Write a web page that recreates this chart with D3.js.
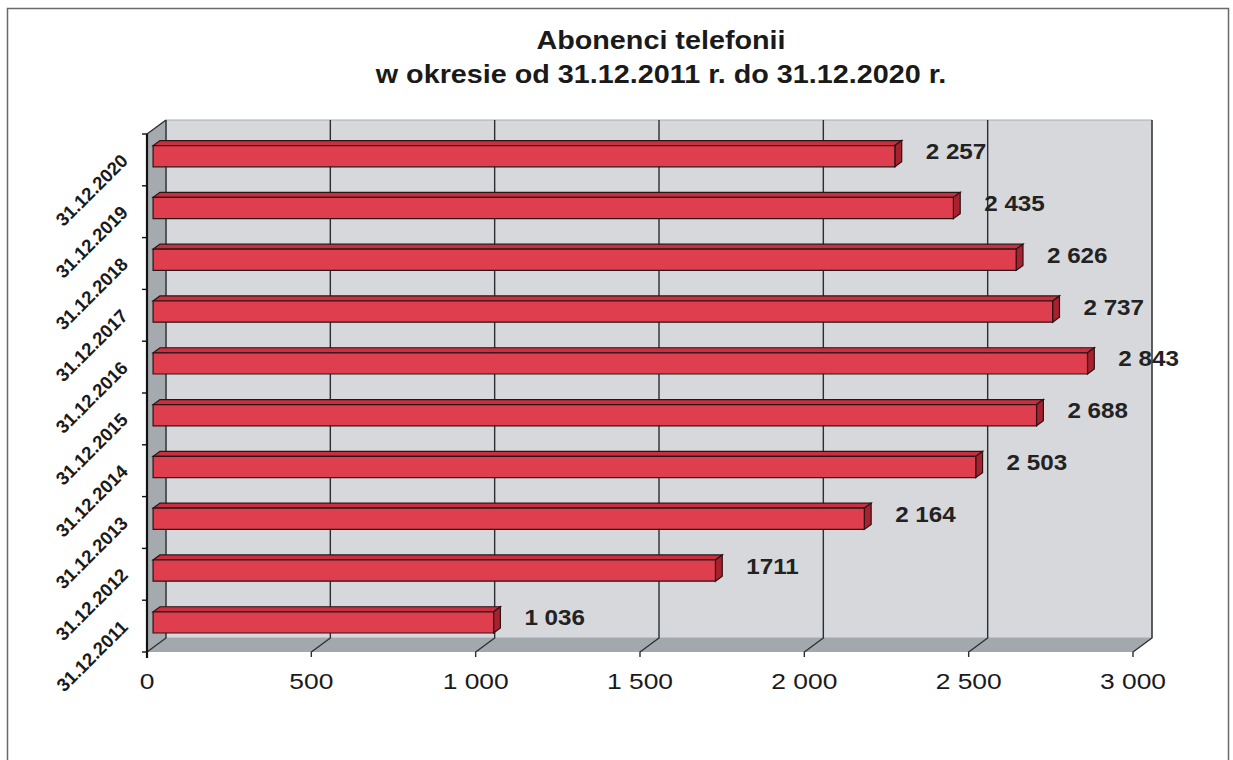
<!DOCTYPE html>
<html><head><meta charset="utf-8">
<script src="https://cdn.jsdelivr.net/npm/d3@7"></script>
<style>body{margin:0;background:#fff;}svg{display:block;font-family:"Liberation Sans",Arial,sans-serif;}</style>
</head><body><svg id="c" width="1233" height="760"></svg>
<script>
const titleLines = ["Abonenci telefonii", "w okresie od 31.12.2011 r. do 31.12.2020 r."];
const categories = ["31.12.2011","31.12.2012","31.12.2013","31.12.2014","31.12.2015","31.12.2016","31.12.2017","31.12.2018","31.12.2019","31.12.2020"];
const values = [1036, 1711, 2164, 2503, 2688, 2843, 2737, 2626, 2435, 2257];
const valueLabels = ["1 036","1711","2 164","2 503","2 688","2 843","2 737","2 626","2 435","2 257"];
const xTicks = [0, 500, 1000, 1500, 2000, 2500, 3000];
const xTickLabels = ["0","500","1 000","1 500","2 000","2 500","3 000"];

const svg = d3.select("#c");
const DX = 19, DY = -14; // depth vector

const x = d3.scaleLinear().domain([0, 3000]).range([147, 1133]);
const y = d3.scaleBand().domain(categories).range([652, 134]).padding(0);
const bw = y.bandwidth();
const P = (v, yy, d) => [x(v) + d * DX, yy + d * DY];

// frame
svg.append("rect").attr("x", 7.5).attr("y", 8.5).attr("width", 1221).attr("height", 800)
  .attr("fill", "none").attr("stroke", "#6a6a6a").attr("stroke-width", 1.5);

// title
svg.append("g").selectAll("text").data(titleLines).join("text")
  .attr("transform", (d, i) => `translate(661,${49 + i * 34}) scale(1.15,1)`)
  .attr("text-anchor", "middle").attr("font-weight", "bold").attr("font-size", 25)
  .attr("fill", "#1a1a1a").text(d => d);

const yTop = y.range()[1], yBot = y.range()[0];
const poly = pts => pts.map(p => p.join(",")).join(" ");

// back wall
svg.append("polygon").attr("points", poly([P(0, yTop, 1), P(3000, yTop, 1), P(3000, yBot, 1), P(0, yBot, 1)]))
  .attr("fill", "#d6d8db").attr("stroke", "#a9adb1").attr("stroke-width", 1);
// left wall
svg.append("polygon").attr("points", poly([P(0, yTop, 0), P(0, yTop, 1), P(0, yBot, 1), P(0, yBot, 0)]))
  .attr("fill", "#a4aaad");
// floor
svg.append("polygon").attr("points", poly([P(0, yBot, 0), P(3000, yBot, 0), P(3000, yBot, 1), P(0, yBot, 1)]))
  .attr("fill", "#a2a8ad");

// gridlines (back wall + floor) with front ticks
const grid = svg.append("g").attr("stroke", "#2b2f33").attr("stroke-width", 1.4).attr("fill", "none");
grid.selectAll("path").data(xTicks).join("path")
  .attr("d", v => {
    const a = P(v, yTop, 1), b = P(v, yBot, 1), c = P(v, yBot, 0);
    return `M${a}L${b}L${c}L${c[0]},${c[1] + 5}`;
  });
// left wall edges
grid.append("path").attr("d", `M${P(0, yTop, 0)}L${P(0, yTop, 1)}`);
svg.append("line").attr("x1", x(0)).attr("x2", x(0)).attr("y1", yTop).attr("y2", yBot + 6)
  .attr("stroke", "#111").attr("stroke-width", 2.2);
// category ticks on left axis
svg.append("g").selectAll("line").data(d3.range(categories.length + 1)).join("line")
  .attr("x1", x(0) - 5).attr("x2", x(0))
  .attr("y1", i => yBot - i * bw).attr("y2", i => yBot - i * bw)
  .attr("stroke", "#111").attr("stroke-width", 1.4);

// bars
const d0 = 0.32, d1 = 0.68, f0 = 0.31, f1 = 0.72;
const bars = svg.append("g").selectAll("g").data(categories).join("g");
bars.each(function (c, i) {
  const g = d3.select(this);
  const v = values[i];
  const t = y(c) + f0 * bw, b = y(c) + f1 * bw;
  const ft0 = P(0, t, d0), ftv = P(v, t, d0), fbv = P(v, b, d0), fb0 = P(0, b, d0);
  const bt0 = P(0, t, d1), btv = P(v, t, d1), bbv = P(v, b, d1);
  g.append("polygon").attr("points", poly([ft0, ftv, btv, bt0]))
    .attr("fill", "#c8303f").attr("stroke", "#2a1416").attr("stroke-width", 1.2);
  g.append("polygon").attr("points", poly([ftv, btv, bbv, fbv]))
    .attr("fill", "#a8212f").attr("stroke", "#2a1416").attr("stroke-width", 1.2);
  g.append("polygon").attr("points", poly([ft0, ftv, fbv, fb0]))
    .attr("fill", "#de3e4e").attr("stroke", "#2a1416").attr("stroke-width", 1.2);
  g.append("text")
    .attr("transform", `translate(${btv[0] + 24},${(t + b) / 2 + d0 * DY + 3}) scale(1.1,1)`)
    .attr("font-weight", "bold").attr("font-size", 22).attr("fill", "#222")
    .text(valueLabels[i]);
});

// category labels
svg.append("g").selectAll("text").data(categories).join("text")
  .attr("transform", c => `translate(129,${y(c) + bw / 2 + 2}) rotate(-45)`)
  .attr("text-anchor", "end").attr("font-weight", "bold").attr("font-size", 18.5)
  .attr("fill", "#1a1a1a").text(c => c);

// x tick labels
svg.append("g").selectAll("text").data(xTicks).join("text")
  .attr("transform", (v) => `translate(${x(v)},689) scale(1.2,1)`)
  .attr("text-anchor", "middle").attr("font-size", 22).attr("fill", "#1a1a1a")
  .text((v, i) => xTickLabels[i]);
</script></body></html>
